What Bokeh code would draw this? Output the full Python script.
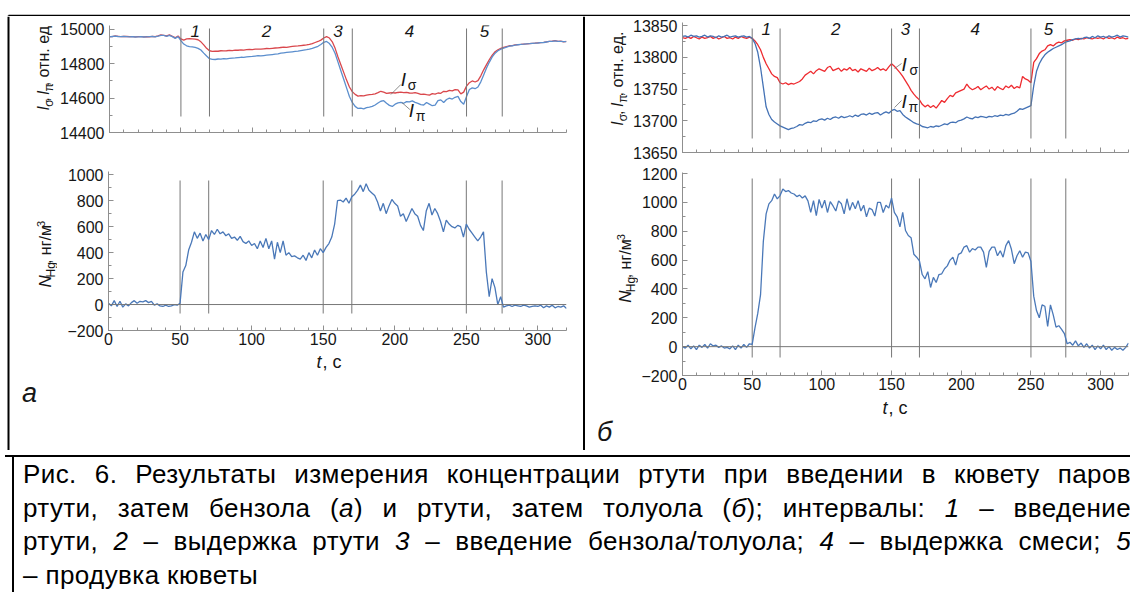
import math
from bokeh.plotting import figure
from bokeh.layouts import column, row
from bokeh.models import Range1d, SingleIntervalTicker, Span, Div
from bokeh.core.properties import value
from bokeh.embed import file_html
from bokeh.resources import INLINE

# time grid, s
t = list(range(0, 321, 2))

# panel "а": mercury, then benzene
a_sigma = [
    14958, 14958, 14962, 14960, 14958, 14960, 14959, 14958, 14958, 14957, 14958, 14958, 14957,
    14958, 14957, 14960, 14958, 14962, 14968, 14966, 14962, 14968, 14960, 14952, 14962,
    14945, 14938, 14945, 14946, 14945, 14944, 14940, 14928, 14910, 14890, 14876, 14872, 14874,
    14873, 14876, 14875, 14876, 14878, 14877, 14880, 14879, 14881, 14880, 14882, 14884,
    14883, 14885, 14886, 14885, 14887, 14889, 14888, 14890, 14892, 14893, 14895, 14897, 14896,
    14899, 14901, 14903, 14904, 14906, 14908, 14910, 14913, 14918, 14924, 14930, 14938,
    14950, 14958, 14950, 14928, 14890, 14840, 14795, 14750, 14705, 14665, 14638, 14622, 14612,
    14615, 14613, 14618, 14620, 14622, 14625, 14632, 14640, 14635, 14628, 14630, 14632,
    14630, 14633, 14635, 14632, 14634, 14630, 14629, 14632, 14628, 14622, 14624, 14620, 14618,
    14626, 14624, 14630, 14628, 14640, 14638, 14645, 14642, 14650, 14648, 14625, 14635,
    14670, 14690, 14700, 14694, 14702, 14730, 14765, 14795, 14825, 14850, 14870, 14882, 14890,
    14895, 14900, 14905, 14906, 14910, 14912, 14913, 14915, 14916, 14918, 14919, 14920,
    14922, 14923, 14925, 14928, 14930, 14932, 14935, 14930, 14932, 14928, 14930,
]
a_pi = [
    14957, 14959, 14961, 14959, 14958, 14959, 14958, 14957, 14958, 14956, 14957, 14958, 14956,
    14957, 14958, 14959, 14957, 14961, 14966, 14965, 14960, 14966, 14958, 14948, 14958,
    14935, 14915, 14905, 14900, 14898, 14895, 14890, 14880, 14862, 14845, 14830, 14826, 14825,
    14828, 14827, 14830, 14829, 14831, 14833, 14834, 14836, 14838, 14837, 14840, 14842,
    14843, 14845, 14847, 14846, 14848, 14850, 14852, 14854, 14856, 14858, 14862, 14864, 14866,
    14868, 14870, 14872, 14874, 14877, 14880, 14882, 14885, 14890, 14896, 14902, 14912,
    14925, 14930, 14918, 14895, 14860, 14810, 14760, 14710, 14660, 14610, 14575, 14552, 14540,
    14542, 14538, 14545, 14548, 14552, 14560, 14572, 14582, 14585, 14570, 14558, 14552,
    14565, 14572, 14575, 14570, 14580, 14578, 14584, 14575, 14570, 14562, 14560, 14575, 14565,
    14556, 14560, 14585, 14590, 14575, 14592, 14600, 14595, 14605, 14610, 14580, 14565,
    14610, 14650, 14660, 14655, 14665, 14695, 14735, 14775, 14810, 14840, 14862, 14876, 14885,
    14891, 14897, 14903, 14905, 14909, 14911, 14913, 14914, 14916, 14917, 14919, 14920,
    14921, 14923, 14924, 14927, 14930, 14931, 14934, 14931, 14931, 14929, 14929,
]
a_n = [
    10, -10, 30, -15, 25, -20, 5, -10, 15, 30, 10, 25, 20, 30, 15, 25, -5, 5, -10, -15, -5, -15, -10, 0, -5,
    10, 250, 300, 420, 480, 560, 510, 550, 490, 540, 500, 570, 540, 580, 545, 560, 530, 545, 510, 520, 495,
    525, 485, 470, 490,
    455, 470, 430, 490, 440, 510, 430, 490, 350, 480, 400, 490, 380, 400, 370, 375, 360, 350, 380, 340, 400,
    360, 420, 380, 430,
    400, 440, 470, 520, 620, 800, 805, 790, 820, 780, 830, 850, 880, 920, 870, 930, 880, 860, 840, 790, 720,
    780, 700, 760, 810,
    780, 760, 680, 700, 640, 690, 740, 700, 680, 610, 570, 720, 780, 690, 740, 700, 640, 560, 650, 620, 600,
    590, 610, 600, 520,
    620, 580, 550, 520, 490, 520, 560, 250, 60, 200, 130, 0, 60, -20, -10, -5, -15, -5, -10, -15, -5, -10,
    -20, -15, -10,
    -15, -5, -25, -10, -20, -5, -25, -15, -20, -10, -30,
]

# panel "б": mercury, then toluene
b_sigma = [
    13831, 13830, 13832, 13830, 13833, 13831, 13829, 13832, 13830, 13831, 13833, 13830, 13832,
    13829, 13831, 13833, 13830, 13831, 13829, 13832, 13830, 13833, 13831, 13830, 13832,
    13830, 13826, 13820, 13812, 13800, 13790, 13782, 13774, 13770, 13768, 13760, 13758, 13760,
    13757, 13759, 13758, 13760, 13762, 13766, 13772, 13775, 13778, 13774, 13779, 13782,
    13780, 13778, 13784, 13786, 13779, 13781, 13783, 13778, 13782, 13780, 13784, 13779, 13781,
    13777, 13782, 13780, 13778, 13783, 13779, 13781, 13784, 13780, 13782, 13779, 13785,
    13790, 13786, 13781, 13776, 13770, 13763, 13756, 13748, 13742, 13737, 13733, 13726, 13722,
    13725, 13721, 13724, 13720, 13726, 13732, 13729, 13735, 13740, 13738, 13744, 13746,
    13748, 13750, 13758, 13752, 13749, 13751, 13754, 13749, 13752, 13755, 13750, 13753, 13748,
    13754, 13751, 13749, 13755, 13752, 13756, 13751, 13754, 13752, 13770, 13766, 13764,
    13760, 13792, 13798, 13806, 13810, 13812, 13818, 13820, 13818, 13822, 13824, 13823, 13826,
    13827, 13828, 13827, 13829, 13828, 13830, 13829, 13831, 13830, 13829, 13831, 13830,
    13831, 13829, 13832, 13830, 13831, 13829, 13832, 13830, 13831, 13829, 13830,
]
b_pi = [
    13833, 13834, 13832, 13835, 13833, 13834, 13832, 13833, 13835, 13832, 13834, 13833, 13831,
    13834, 13832, 13833, 13835, 13832, 13833, 13834, 13832, 13833, 13834, 13832, 13833,
    13830, 13822, 13808, 13784, 13753, 13722, 13710, 13702, 13698, 13695, 13692, 13690, 13688,
    13686, 13688, 13689, 13691, 13694, 13693, 13696, 13698, 13697, 13700, 13699, 13702,
    13703, 13701, 13704, 13702, 13705, 13706, 13704, 13707, 13705, 13706, 13708, 13706, 13709,
    13707, 13710, 13711, 13709, 13712, 13710, 13712, 13713, 13709, 13712, 13714, 13712,
    13716, 13718, 13715, 13716, 13710, 13706, 13703, 13700, 13697, 13695, 13694, 13691, 13690,
    13689, 13691, 13690, 13692, 13691, 13693, 13695, 13694, 13697, 13698, 13697, 13700,
    13701, 13703, 13706, 13704, 13703, 13706, 13705, 13707, 13706, 13705, 13707, 13706, 13708,
    13707, 13709, 13708, 13710, 13709, 13711, 13712, 13715, 13719, 13718, 13720, 13722,
    13724, 13755, 13778, 13790, 13798, 13804, 13808, 13811, 13814, 13816, 13818, 13820, 13823,
    13825, 13826, 13828, 13829, 13830, 13829, 13831, 13832, 13830, 13833, 13831, 13834,
    13832, 13833, 13831, 13834, 13832, 13833, 13835, 13832, 13834, 13833, 13832,
]
b_n = [
    0, -10, 10, -15, 5, -20, 10, -5, 15, -10, 20, 5, 10, -5, 5, -10, -5, -15, 5, -20, 10, -10, 15, -5, 20,
    15, 130, 230, 360, 730, 920, 990, 1012, 1058, 1024, 1047, 1093, 1075, 1082, 1065, 1058, 1040, 1050,
    1030, 1045, 1010, 930, 1012, 908, 1020,
    960, 1015, 930, 1005, 975, 940, 1010, 990, 920, 1025, 945, 1000, 955, 1012, 940, 980, 900, 960, 950,
    905, 1000, 1000, 930, 980, 960,
    1030, 930, 900, 830, 930, 805, 770, 755, 640, 620, 595, 500, 470, 520, 410, 480, 445, 500, 505, 540,
    560, 600, 620, 565, 640,
    650, 690, 700, 655, 680, 670, 690, 690, 655, 550, 660, 690, 690, 630, 665, 620, 700, 735, 675, 575,
    630, 665, 620, 655, 650,
    590, 350, 250, 200, 290, 280, 140, 290, 220, 135, 145, 120, 90, 20, 30, 10, 40, 5, 25, -5, 20, -10,
    10, -20, 5,
    -15, 10, -20, 0, -25, -5, -20, -10, -25, -5, 25,
]

# interval boundaries, s, and their numbers
intervals = [50, 70, 150, 170, 250, 275]
interval_names = ["1", "2", "3", "4", "5"]
interval_mid = [(a + b) / 2 for a, b in zip(intervals[:-1], intervals[1:])]

# caption lines; italic runs marked with <i>
caption_lines = [
    "Рис. 6. Результаты измерения концентрации ртути при введении в кювету паров",
    "ртути, затем бензола (<i>а</i>) и ртути, затем толуола (<i>б</i>); интервалы: <i>1</i> – введение",
    "ртути, <i>2</i> – выдержка ртути <i>3</i> – введение бензола/толуола; <i>4</i> – выдержка смеси; <i>5</i>",
    "– продувка кюветы",
]

FONT = "Liberation Sans"
INK = "#161616"
AXIS = "#8f8f8f"
VLINE = "#777777"

A_RED, A_BLUE = "#d9474c", "#5b8ecd"
B_RED, B_BLUE = "#ee2b30", "#4472b5"
N_BLUE = "#4a78b8"


def make_chart(width, height, borders, frame, yr, ystep, xlabels):
    """frame = (left, right, top, bottom) of the plot area in page pixels."""
    bl, br, bt, bb = borders
    p = figure(width=width, height=height, x_range=Range1d(0, 320), y_range=Range1d(*yr),
               output_backend="svg", toolbar_location=None,
               min_border_left=bl, min_border_right=br, min_border_top=bt, min_border_bottom=bb)
    p.grid.visible = False
    p.outline_line_color = None
    p.xaxis.ticker = SingleIntervalTicker(interval=50, num_minor_ticks=5)
    p.yaxis.ticker = SingleIntervalTicker(interval=ystep, num_minor_ticks=2)
    for ax in (p.xaxis[0], p.yaxis[0]):
        ax.axis_line_color = AXIS
        ax.major_tick_line_color = AXIS
        ax.minor_tick_line_color = AXIS
        ax.major_tick_in = 5
        ax.major_tick_out = 0
        ax.minor_tick_in = 3
        ax.minor_tick_out = 0
        ax.major_label_text_font = FONT
        ax.major_label_text_color = INK
        ax.major_label_text_font_size = "16px"
    p.yaxis.major_label_standoff = 5
    p.yaxis.major_label_overrides = {-200: "\u2212200"}
    if xlabels:
        p.xaxis.major_label_standoff = 2
    else:
        p.xaxis.major_label_text_font_size = "0px"
        p.xaxis.major_label_text_color = None
        p.xaxis.major_label_standoff = 0

    L, R, T, B = frame
    y0, y1 = yr

    def to_data(px, py):
        return ((px - L) / (R - L) * 320.0, y1 - (py - T) / (B - T) * (y1 - y0))

    return p, to_data


def interval_marks(p, to_data, top_py, bottom_py, num_py):
    _, ytop = to_data(0, top_py)
    _, ybot = to_data(0, bottom_py)
    p.segment(x0=intervals, y0=[ybot] * len(intervals), x1=intervals, y1=[ytop] * len(intervals),
              line_color=VLINE, line_width=1)
    if num_py is not None:
        _, yn = to_data(0, num_py)
        p.text(x=interval_mid, y=[yn] * len(interval_mid), text=interval_names,
               text_font=value(FONT), text_font_size=value("17px"), text_font_style="italic",
               text_align="center", text_baseline="middle", text_color=INK)


def curve_tags(p, to_data, tags):
    # (letter px, py, subscript, sub px, sub py, leader x0, y0, x1, y1)
    for (ix, iy, sub, sx, sy, lx0, ly0, lx1, ly1) in tags:
        xa, ya = to_data(lx0, ly0)
        xb, yb = to_data(lx1, ly1)
        p.segment(x0=[xa], y0=[ya], x1=[xb], y1=[yb], line_color="#6f6f6f", line_width=0.8)
        x, y = to_data(ix, iy)
        p.text(x=[x], y=[y], text=["I"], text_font=value(FONT), text_font_size=value("19px"),
               text_font_style="italic", text_align="left", text_baseline="middle", text_color=INK)
        x, y = to_data(sx, sy)
        p.text(x=[x], y=[y], text=[sub], text_font=value(FONT), text_font_size=value("14px"),
               text_align="left", text_baseline="middle", text_color=INK)


def sheet(ox, oy, width, height):
    """A blank figure whose frame is the whole canvas, addressed in page pixels."""
    p = figure(width=width, height=height, x_range=Range1d(ox, ox + width),
               y_range=Range1d(oy + height, oy), output_backend="svg", toolbar_location=None,
               x_axis_type=None, y_axis_type=None, min_border=0, min_border_left=0,
               min_border_right=0, min_border_top=0, min_border_bottom=0)
    p.grid.visible = False
    p.outline_line_color = None
    return p


def rules(p, segments, lw):
    for (x0, y0, x1, y1) in segments:
        p.segment(x0=[x0], y0=[y0], x1=[x1], y1=[y1], line_color="#000000", line_width=lw)


def words(p, items, size, angle=0.0, align="left", color=INK):
    # items: (text, x, y, italic)
    for italic in (False, True):
        part = [it for it in items if it[3] == italic]
        if not part:
            continue
        p.text(x=[it[1] for it in part], y=[it[2] for it in part], text=[it[0] for it in part],
               angle=angle, text_font=value(FONT), text_font_size=value(f"{size}px"),
               text_font_style="italic" if italic else "normal",
               text_align=align, text_baseline="middle", text_color=color)


def axis_title(p, pieces):
    # rotated title assembled from pieces: (text, x, y_start, size, italic)
    for text, x, y, size, italic in pieces:
        words(p, [(text, x, y, italic)], size, angle=math.pi / 2)


SIGMA, PI_ = "\u03c3", "\u03c0"
OTN = ", отн. ед."
NGM = ", нг/м"

# ---------------- panel а ----------------
aT, aT_map = make_chart(525, 146, (51, 16, 9, 30), (108, 566, 25, 132), (14400, 15023), 200, False)
aT.line(t, a_sigma, line_color=A_RED, line_width=1.3)
aT.line(t, a_pi, line_color=A_BLUE, line_width=1.3)
interval_marks(aT, aT_map, 28, 116, 30)
curve_tags(aT, aT_map, [
    (400, 79, SIGMA, 407, 84, 390, 94, 400, 84),
    (408, 110, PI_, 415, 115, 401, 102, 409, 109),
])
aT_lab = sheet(10, 16, 47, 146)
axis_title(aT_lab, [
    ("I", 43, 132, 16, True), (SIGMA, 48, 127, 12, False), (", ", 43, 120, 16, False),
    ("I", 43, 111, 16, True), (PI_, 48, 106, 12, False), (OTN, 43, 99, 16, False),
])

aB, aB_map = make_chart(525, 189, (51, 16, 9, 21), (108, 566, 171, 330), (-200, 1025), 200, True)
aB.add_layout(Span(location=0, dimension="width", line_color=VLINE, line_width=1))
interval_marks(aB, aB_map, 180, 313, None)
aB.line(t, a_n, line_color=N_BLUE, line_width=1.3)
aB_lab = sheet(10, 162, 47, 189)
axis_title(aB_lab, [
    ("N", 45, 300, 17, True), ("Hg", 50, 288, 12, False), (NGM, 45, 272, 16, False),
    ("3", 40, 228, 11, False),
])
a_foot = sheet(10, 351, 572, 99)
words(a_foot, [("t", 316, 361, True), (", с", 322, 361, False)], 18)
words(a_foot, [("а", 29, 392, True)], 27, align="center")

# ---------------- panel б ----------------
bT, bT_map = make_chart(500, 146, (50, 2, 6, 10), (680, 1128, 22, 152), (13650, 13855), 50, False)
bT.line(t, b_sigma, line_color=B_RED, line_width=1.3)
bT.line(t, b_pi, line_color=B_BLUE, line_width=1.3)
interval_marks(bT, bT_map, 28, 138, 28)
curve_tags(bT, bT_map, [
    (900, 64, SIGMA, 908, 69, 893, 68, 900, 63),
    (900, 101, PI_, 907, 106, 893, 107, 900, 100),
])
bT_lab = sheet(585, 16, 45, 146)
axis_title(bT_lab, [
    ("I", 617, 132, 16, True), (SIGMA, 622, 127, 12, False), (", ", 617, 120, 16, False),
    ("I", 617, 111, 16, True), (PI_, 622, 106, 12, False), (OTN, 617, 99, 16, False),
])

bB, bB_map = make_chart(492, 234, (42, 2, 10, 21), (680, 1128, 172, 375), (-200, 1207), 200, True)
bB.add_layout(Span(location=0, dimension="width", line_color=VLINE, line_width=1))
interval_marks(bB, bB_map, 178, 357, None)
bB.line(t, b_n, line_color=N_BLUE, line_width=1.3)
bB_lab = sheet(585, 162, 53, 234)
axis_title(bB_lab, [
    ("N", 625, 312, 17, True), ("Hg", 630, 300, 12, False), (NGM, 625, 284, 16, False),
    ("3", 620, 240, 11, False),
])
b_foot = sheet(585, 396, 545, 54)
words(b_foot, [("t", 882, 407, True), (", с", 888, 407, False)], 18)
words(b_foot, [("б", 604, 431, True)], 27, align="center")

# ---------------- table rules ----------------
header = sheet(0, 0, 1130, 16)
rules(header, [(8, 15, 1130, 15), (8, 15, 8, 16), (583.5, 15, 583.5, 16)], 1.6)
strip_left = sheet(0, 16, 10, 434)
rules(strip_left, [(8, 16, 8, 450)], 2)
strip_mid = sheet(582, 16, 3, 434)
rules(strip_mid, [(583.5, 16, 583.5, 450)], 2)

# ---------------- caption ----------------
line_css = "text-align:justify;text-align-last:justify;"
body = "".join(
    f'<div style="{line_css if i < 3 else "text-align:left;"}">{txt}</div>'
    for i, txt in enumerate(caption_lines)
)
caption = Div(
    width=1130, height=142,
    text=(
        '<div style="position:relative;width:1130px;height:142px;'
        f"font-family:'{FONT}',sans-serif;font-size:26px;letter-spacing:0.4px;color:#000;\">"
        '<div style="position:absolute;left:0;top:0;width:1130px;height:2px;background:#000;"></div>'
        '<div style="position:absolute;left:7px;top:0;width:2px;height:142px;background:#000;"></div>'
        f'<div style="position:absolute;left:18px;top:3px;width:1108px;line-height:33.7px;">{body}</div>'
        "</div>"
    ),
)

layout = column(
    header,
    row(
        strip_left,
        column(row(aT_lab, aT), row(aB_lab, aB), a_foot),
        strip_mid,
        column(row(bT_lab, bT), row(bB_lab, bB), b_foot),
    ),
    caption,
)

open("out.html", "w").write(file_html(layout, INLINE, "Hg"))
